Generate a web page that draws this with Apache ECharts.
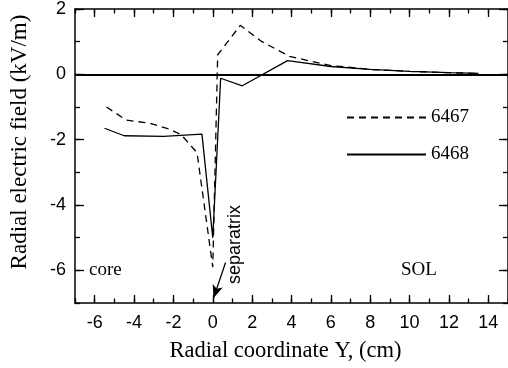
<!DOCTYPE html>
<html>
<head>
<meta charset="utf-8">
<script src="https://cdn.jsdelivr.net/npm/echarts@6/dist/echarts.min.js"></script>
<style>
  html, body { margin: 0; padding: 0; background: #fff; }
  #main { width: 508px; height: 368px; }
</style>
</head>
<body>
<div id="main"></div>
<script>
// axis ranges and labelled ticks
var xMin = -7, xMax = 15;
var yMin = -7, yMax = 2;
var xMajor = [-6, -4, -2, 0, 2, 4, 6, 8, 10, 12, 14];
var yMajor = [-6, -4, -2, 0, 2];

// shot 6467 (dashed)
var x6467 = [-5.4, -4.4, -3.2, -2.2, -1.6, -0.8, 0.0, 0.25, 1.4, 2.5, 3.9, 5.0, 6.0, 8.0, 10.0, 12.0, 13.5];
var y6467 = [-1.0, -1.4, -1.5, -1.68, -1.85, -2.4, -5.9, 0.6, 1.5, 1.0, 0.55, 0.4, 0.27, 0.15, 0.09, 0.05, 0.03];

// shot 6468 (solid)
var x6468 = [-5.5, -4.5, -2.5, -0.55, 0.0, 0.4, 1.5, 3.8, 6.0, 8.0, 10.0, 12.0, 13.5];
var y6468 = [-1.65, -1.88, -1.9, -1.83, -5.0, -0.12, -0.35, 0.42, 0.24, 0.15, 0.09, 0.05, 0.03];

var serif = '"Liberation Serif", "DejaVu Serif", serif';
var sans = '"Liberation Sans", Arial, sans-serif';

function pairs(xs, ys) {
    return xs.map(function (x, i) { return [x, ys[i]]; });
}

var chart = echarts.init(document.getElementById('main'), null, { renderer: 'canvas' });

var black = '#000';

// minor ticks on every unit, major (longer) ticks on the labelled values
function xAx(pos, major, withLabels) {
    return {
        type: 'value', position: pos, min: xMin, max: xMax, interval: 1,
        axisLine: { show: !major, onZero: false, lineStyle: { color: black, width: 1.5 } },
        axisTick: major
            ? { show: true, inside: true, length: 8, customValues: xMajor, lineStyle: { color: black, width: 1.3 } }
            : { show: true, inside: true, length: 4.5, lineStyle: { color: black, width: 1.3 } },
        axisLabel: withLabels
            ? { show: true, customValues: xMajor, color: black, fontSize: 18, fontFamily: sans, margin: 11 }
            : { show: false },
        splitLine: { show: false },
        name: withLabels ? 'Radial coordinate Y, (cm)' : '',
        nameLocation: 'middle',
        nameGap: 37,
        nameTextStyle: { color: black, fontSize: 22.5, fontFamily: serif, padding: [0, 12, 0, 0] }
    };
}

function yAx(pos, major, withLabels) {
    return {
        type: 'value', position: pos, min: yMin, max: yMax, interval: 1,
        axisLine: { show: !major, onZero: false, lineStyle: { color: black, width: 1.5 } },
        axisTick: major
            ? { show: true, inside: true, length: 9, customValues: yMajor, lineStyle: { color: black, width: 1.3 } }
            : { show: true, inside: true, length: 5, lineStyle: { color: black, width: 1.3 } },
        axisLabel: withLabels
            ? { show: true, customValues: yMajor, color: black, fontSize: 18, fontFamily: sans, margin: 9, padding: [7, 0, 0, 0] }
            : { show: false },
        splitLine: { show: false },
        name: withLabels ? 'Radial electric field (kV/m)' : '',
        nameLocation: 'middle',
        nameGap: 44,
        nameTextStyle: { color: black, fontSize: 23, fontFamily: serif, padding: [0, 0, 0, 28] }
    };
}

var option = {
    animation: false,
    backgroundColor: '#fff',
    grid: { left: 58, top: 4, width: 452, height: 299, containLabel: false },
    xAxis: [xAx('bottom', false, true), xAx('bottom', true, false), xAx('top', false, false), xAx('top', true, false)],
    yAxis: [yAx('left', false, true), yAx('left', true, false), yAx('right', false, false), yAx('right', true, false)],
    legend: {
        orient: 'vertical',
        left: 346, top: 108,
        padding: 0,
        itemWidth: 79, itemHeight: 14,
        itemGap: 18,
        data: ['6467', '6468'],
        itemStyle: { color: 'rgba(0,0,0,0)', borderWidth: 0, opacity: 0 },
        textStyle: { color: black, fontSize: 19, fontFamily: serif }
    },
    series: [
        {
            name: '6467', type: 'line', xAxisIndex: 0, yAxisIndex: 0,
            data: pairs(x6467, y6467),
            symbol: 'none', showSymbol: false,
            lineStyle: { color: black, width: 1.3, type: [7, 5] },
            itemStyle: { color: black },
            markLine: {
                silent: true, animation: false,
                data: [[
                    { coord: [0.65, -5.76], symbol: 'none' },
                    { coord: [0.04, -6.85], symbol: 'arrow', symbolSize: [8, 13] }
                ]],
                label: { show: false },
                lineStyle: { color: black, width: 1.3, type: 'solid' }
            }
        },
        {
            name: '6468', type: 'line', xAxisIndex: 0, yAxisIndex: 0,
            data: pairs(x6468, y6468),
            symbol: 'none', showSymbol: false,
            lineStyle: { color: black, width: 1.3, type: 'solid' },
            itemStyle: { color: black },
            markLine: {
                silent: true, animation: false,
                symbol: ['none', 'none'],
                data: [{ yAxis: 0 }],
                label: { show: false },
                lineStyle: { color: black, width: 2, type: 'solid' }
            }
        }
    ],
    graphic: [
        { type: 'text', left: 89, top: 261, style: { text: 'core', fill: black, font: '19px ' + serif } },
        { type: 'text', left: 401, top: 261, style: { text: 'SOL', fill: black, font: '19px ' + serif } },
        {
            type: 'text', x: 235.5, y: 244.5, rotation: Math.PI / 2,
            style: { text: 'separatrix', fill: black, font: '18px ' + sans, align: 'center', verticalAlign: 'middle' }
        }
    ]
};

chart.setOption(option);
</script>
</body>
</html>
